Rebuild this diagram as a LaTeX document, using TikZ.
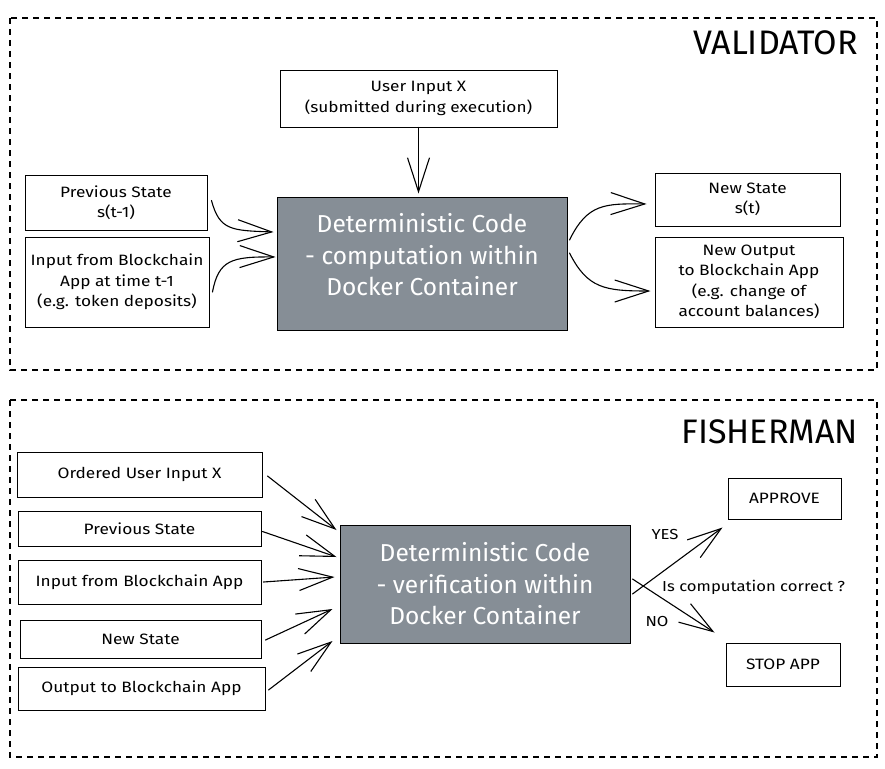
\documentclass[tikz,border=0pt]{standalone}
\usepackage{fontspec}
\setmainfont{Fira Sans}
\newfontfamily\handfont{Fira Sans}[FakeStretch=1.15]
\usetikzlibrary{arrows.meta,calc}
\definecolor{detgray}{HTML}{868E96}
\tikzset{
  box/.style={draw=black, line width=1pt, align=center, inner sep=0pt, font=\handfont\fontsize{15}{20.5}\selectfont},
  detbox/.style={draw=black, line width=1pt, fill=detgray, text=white, align=center, inner sep=0pt, font=\fontsize{24.5}{31.5}\selectfont},
  frame/.style={draw=black, line width=1.1pt, dash pattern=on 6pt off 5pt},
  title/.style={font=\fontsize{34}{36}\selectfont, anchor=east, inner sep=0pt},
  lbl/.style={font=\handfont\fontsize{14.5}{17}\selectfont, inner sep=0pt},
  conn/.style={line width=1.1pt, line cap=round, -{Straight Barb[length=34pt,width=22pt,line width=1.1pt]}}
}
\begin{document}
\begin{tikzpicture}[x=1pt,y=-1pt]
\useasboundingbox[fill=white] (0,0) rectangle (885,768);
% frames
\draw[frame] (10,18) rectangle (877,370);
\draw[frame] (10,400) rectangle (877,757);
\node[title] (vtitle) at (858,43) {VALIDATOR};
\node[title] (ftitle) at (858,432) {FISHERMAN};

% ---------- validator ----------
\node[box, minimum width=277pt, minimum height=57pt] (ui) at (418.5,98.5) {User Input X\\(submitted during execution)};
\node[box, minimum width=182pt, minimum height=55pt] (prev) at (116,202.5) {Previous State\\s(t-1)};
\node[box, minimum width=184pt, minimum height=90pt] (inp) at (117,282) {Input from Blockchain\\App at time t-1\\(e.g. token deposits)};
\node[detbox, minimum width=290pt, minimum height=133pt, text depth=18pt] (det) at (422,263.5) {Deterministic Code\\- computation within\\Docker Container};
\node[box, minimum width=185pt, minimum height=53pt] (ns) at (747.5,199.5) {New State\\s(t)};
\node[box, minimum width=188pt, minimum height=90pt] (nout) at (749,282) {New Output\\to Blockchain App\\(e.g. change of\\account balances)};

\draw[conn, shorten >=3pt] (ui.south) -- (ui.south |- det.north);
\draw[conn] ([xshift=4pt,yshift=2pt]prev.east) .. controls ([xshift=12pt,yshift=-28pt]prev.east) and ([xshift=-45pt,yshift=33pt]det.west) .. ([xshift=-3pt,yshift=31.5pt]det.west);
\draw[conn] ([xshift=3pt,yshift=-10pt]inp.east) .. controls ([xshift=9pt,yshift=22pt]inp.east) and ([xshift=-45pt,yshift=7pt]det.west) .. ([xshift=-1pt,yshift=6.5pt]det.west);
\draw[conn] ([xshift=2pt,yshift=23.5pt]det.east) .. controls ([xshift=20pt,yshift=60pt]det.east) and ([xshift=-50pt,yshift=-4pt]ns.west) .. ([xshift=-8pt,yshift=-4.5pt]ns.west);
\draw[conn] ([xshift=2pt,yshift=10.5pt]det.east) .. controls ([xshift=20pt,yshift=-25pt]det.east) and ([xshift=-50pt,yshift=-9pt]nout.west) .. ([xshift=-4pt,yshift=-9pt]nout.west);

% ---------- fisherman ----------
\node[box, minimum width=245pt, minimum height=45pt] (f1) at (139.5,474.5) {Ordered User Input X};
\node[box, minimum width=243pt, minimum height=35pt] (f2) at (139.5,528.5) {Previous State};
\node[box, minimum width=243pt, minimum height=44pt] (f3) at (139.5,582) {Input from Blockchain App};
\node[box, minimum width=241pt, minimum height=38pt] (f4) at (140.5,639) {New State};
\node[box, minimum width=247pt, minimum height=43pt] (f5) at (141.5,688.5) {Output to Blockchain App};
\node[detbox, minimum width=290pt, minimum height=118pt] (det2) at (485,584) {Deterministic Code\\- verification within\\Docker Container};
\node[box, minimum width=113pt, minimum height=41pt] (ap) at (784.5,498.5) {APPROVE};
\node[box, minimum width=114pt, minimum height=43pt] (st) at (783,664.5) {STOP APP};

\draw[conn] ([xshift=5pt,yshift=-1.5pt]f1.east) -- ([xshift=-3pt,yshift=54pt]det2.west);
\draw[conn] ([xshift=1pt,yshift=-3pt]f2.east) -- ([xshift=-3pt,yshift=27pt]det2.west);
\draw[conn] ([xshift=2pt]f3.east) -- ([xshift=-5pt,yshift=7pt]det2.west);
\draw[conn] ([xshift=4pt,yshift=-1pt]f4.east) -- ([xshift=-7pt,yshift=-25pt]det2.west);
\draw[conn] ([xshift=3pt,yshift=-1.5pt]f5.east) -- ([xshift=-7pt,yshift=-57pt]det2.west);

\draw[conn] ([xshift=2pt,yshift=-10pt]det2.east) -- ([xshift=-5pt,yshift=-8pt]ap.south west);
\draw[conn] ([xshift=2pt,yshift=5pt]det2.east) -- ([xshift=-11pt,yshift=10pt]st.north west);
\node[lbl] (yes) at (665,534) {YES};
\node[lbl] (no) at (657,621) {NO};
\node[lbl, anchor=west] (q) at (662,587) {Is computation correct ?};
\end{tikzpicture}
\end{document}
